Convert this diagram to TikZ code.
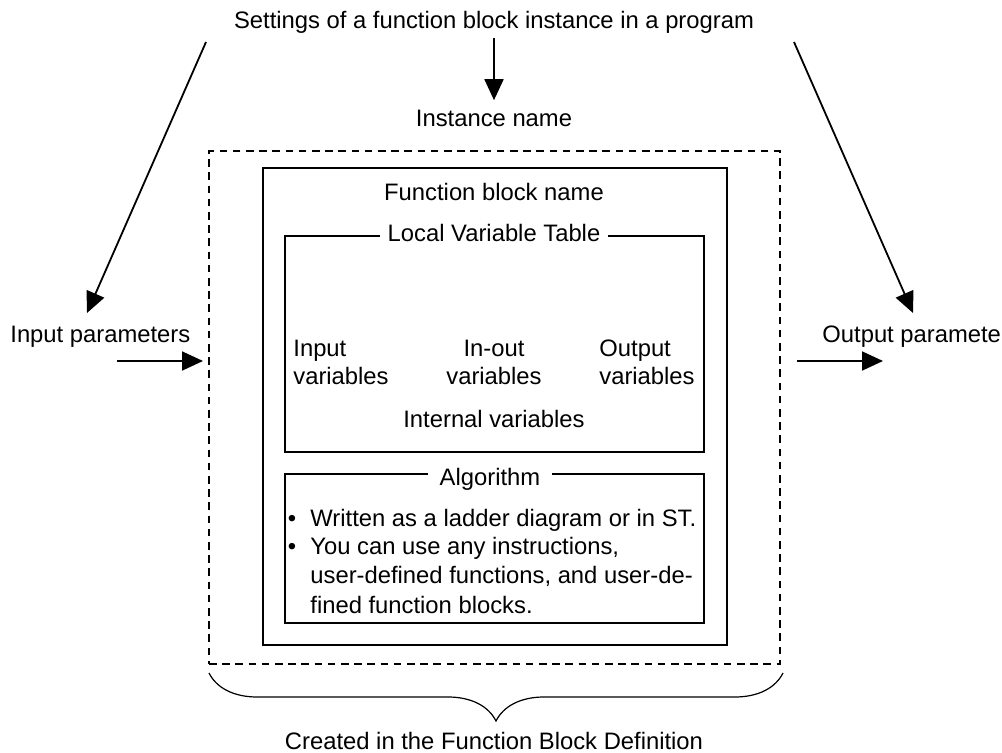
\documentclass[tikz,border=0pt]{standalone}
\usepackage{fontspec}
\setmainfont{Liberation Sans}
\usetikzlibrary{arrows.meta,decorations.pathreplacing,fit}

\tikzset{
  txt/.style={anchor=base, inner sep=0pt, font=\fontsize{11.9}{14.5}\selectfont},
  box/.style={draw, inner sep=0pt, line width=0.8pt},
  title/.style={txt, fill=white, inner xsep=4pt, inner ysep=2pt},
  arr/.style={line width=0.9pt, -{Triangle[length=10.5pt,width=9.5pt]}},
}

\begin{document}
\begin{tikzpicture}[x=0.5pt,y=-0.5pt]
  \useasboundingbox (0,0) rectangle (1002,753);

  % texts round the block
  \node[txt] (settings) at (494,29) {Settings of a function block instance in a program};
  \node[txt] (inst) at (494,127) {Instance name};
  \node[txt,anchor=base west] (inpar) at (10,343) {Input parameters};
  \node[txt,anchor=base west] (outpar) at (822,343) {Output paramete};
  \node[txt] (created) at (494,749) {Created in the Function Block Definition};

  % the block and its boxes
  \node[box, dashed, dash pattern=on 3.8pt off 2.8pt, line width=0.7pt,
        fit={(209,151) (780,664)}] (block) {};
  \node[box, fit={(263,168) (727,645)}] (fb) {};
  \node[box, fit={(285,236) (704,452)}] (lvt) {};
  \node[box, fit={(285,474) (704,623)}] (algo) {};

  \node[txt] (fbname) at (494,201) {Function block name};
  \node[title] (lvtname) at (494,242) {Local Variable Table};
  \node[title, inner xsep=6pt] (algoname) at (490,486) {Algorithm};

  % variables
  \node[txt,anchor=base west] (in1) at (293,357) {Input};
  \node[txt,anchor=base west] (in2) at (293,385) {variables};
  \node[txt] (io1) at (494,357) {In-out};
  \node[txt] (io2) at (494,385) {variables};
  \node[txt,anchor=base west] (out1) at (599,357) {Output};
  \node[txt,anchor=base west] (out2) at (599,385) {variables};
  \node[txt] (intern) at (494,428) {Internal variables};

  % algorithm text
  \node[txt] (b1) at (292,527) {•};
  \node[txt] (b2) at (292,555) {•};
  \foreach \y/\t [count=\i] in {527/{Written as a ladder diagram or in ST.},
                                555/{You can use any instructions,},
                                584/{user-defined functions, and user-de-},
                                613/{fined function blocks.}}
    \node[txt,anchor=base west] (alg\i) at (310,\y) {\t};

  % arrows
  \coordinate (l0) at (206,42);
  \coordinate (l1) at (87,313);
  \coordinate (r0) at (794,42);
  \coordinate (r1) at (913,313);
  \coordinate (i0) at (117,361);
  \coordinate (i1) at (203,361);
  \coordinate (o0) at (797,361);
  \coordinate (o1) at (883,361);
  \draw[arr, shorten <=2pt, shorten >=5pt] (settings.south) -- (inst.north);
  \draw[arr] (l0) -- (l1);
  \draw[arr] (r0) -- (r1);
  \draw[arr] (i0) -- (i1);
  \draw[arr] (o0) -- (o1);

  % brace
  \draw[line width=0.6pt, decorate, decoration={brace, amplitude=24pt, mirror}]
    (209,673) -- (783,673);
\end{tikzpicture}
\end{document}
